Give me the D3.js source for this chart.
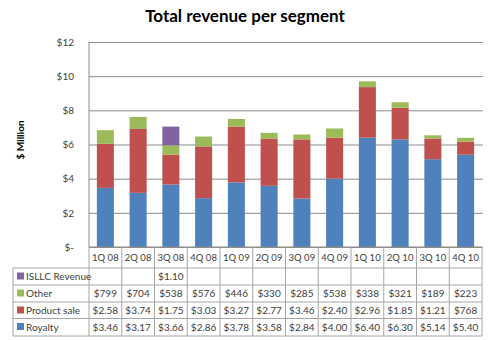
<!DOCTYPE html>
<html><head><meta charset="utf-8">
<script src="https://cdn.jsdelivr.net/npm/d3@7"></script>
<style>body{margin:0;background:#fff;} svg{display:block;font-family:Lato,"Open Sans",sans-serif;}</style>
</head><body><svg id="c" width="490" height="340"></svg>
<script>
const categories = ["1Q 08","2Q 08","3Q 08","4Q 08","1Q 09","2Q 09","3Q 09","4Q 09","1Q 10","2Q 10","3Q 10","4Q 10"];
const royalty = [3.46,3.17,3.66,2.86,3.78,3.58,2.84,4.00,6.40,6.30,5.14,5.40];
const productSale = [2.58,3.74,1.75,3.03,3.27,2.77,3.46,2.40,2.96,1.85,1.21,0.768];
const other = [0.799,0.704,0.538,0.576,0.446,0.330,0.285,0.538,0.338,0.321,0.189,0.223];
const isllc = [null,null,1.10,null,null,null,null,null,null,null,null,null];
const yTicks = [0,2,4,6,8,10,12];
const seriesNames = ["Royalty","Product sale","Other","ISLLC Revenue"];
const seriesColors = ["#4F81BD","#C0504D","#9BBB59","#8064A2"];
const title = "Total revenue per segment";
const yTitle = "$ Million";

const svg = d3.select("#c");
const L = 89, R = 482, T = 42, B = 247;
const x = d3.scaleBand().domain(categories).range([L, R]).paddingInner(0.48).paddingOuter(0.24);
const xCell = d3.scaleBand().domain(categories).range([L, R]);
const y = d3.scaleLinear().domain([0, 12]).range([B, T]);

const series = [royalty, productSale, other, isllc];
const rows = categories.map((c, i) => {
  const o = {cat: c};
  seriesNames.forEach((n, j) => o[n] = series[j][i] || 0);
  return o;
});
const stack = d3.stack().keys(seriesNames)(rows);

// title
svg.append("text").attr("x", 245).attr("y", 22).attr("text-anchor", "middle")
  .attr("font-size", 17).attr("font-weight", "bold").attr("fill", "#000").text(title);

// grid
const grid = svg.append("g").attr("transform", `translate(${L},0)`)
  .call(d3.axisLeft(y).tickValues(yTicks).tickSize(-(R - L + 1)).tickFormat(""));
grid.select(".domain").remove();
grid.selectAll("line").attr("stroke", "#8c8c8c").attr("stroke-width", 1);

// y labels
const ya = svg.append("g").attr("transform", `translate(${L - 12},0)`)
  .call(d3.axisLeft(y).tickValues(yTicks).tickSize(0).tickFormat(d => d === 0 ? "$-" : "$" + d));
ya.select(".domain").remove();
ya.selectAll("text").attr("font-size", 10).attr("fill", "#404040").attr("font-family", "Lato,sans-serif");

svg.append("text").attr("transform", `translate(24,140) rotate(-90)`).attr("text-anchor", "middle")
  .attr("font-size", 10).attr("font-weight", "bold").attr("fill", "#000").text(yTitle);

// bars
stack.forEach((s, j) => {
  svg.append("g").selectAll("rect").data(s.filter(d => d[1] > d[0])).join("rect")
    .attr("x", d => x(d.data.cat)).attr("width", x.bandwidth())
    .attr("y", d => y(d[1])).attr("height", d => y(d[0]) - y(d[1]))
    .attr("fill", seriesColors[j]);
});

// axis line left and bottom
svg.append("line").attr("x1", L).attr("x2", L).attr("y1", y(12)).attr("y2", B).attr("stroke", "#8c8c8c");
svg.append("line").attr("x1", L).attr("x2", R).attr("y1", B).attr("y2", B).attr("stroke", "#8c8c8c");

// table
const rowTops = [268, 285, 302, 318.5];
const rowH = 17;
const tableBottom = 336;
const legendLeft = 13;
const tbl = svg.append("g");
const bc = "#a6a6a6";
// category header cells
categories.forEach(c => {
  tbl.append("text").attr("x", xCell(c) + xCell.bandwidth() / 2).attr("y", 261)
    .attr("text-anchor", "middle").attr("font-size", 9.5).attr("fill", "#404040").text(c);
});
// vertical lines in header
xCell.domain().concat([null]).forEach((c, i) => {
  const xx = c === null ? R : xCell(c);
  tbl.append("line").attr("x1", xx).attr("x2", xx).attr("y1", B).attr("y2", tableBottom).attr("stroke", bc);
});
tbl.append("line").attr("x1", legendLeft).attr("x2", legendLeft).attr("y1", rowTops[0]).attr("y2", tableBottom).attr("stroke", bc);
rowTops.concat([tableBottom]).forEach(t => {
  tbl.append("line").attr("x1", legendLeft).attr("x2", R).attr("y1", t).attr("y2", t).attr("stroke", bc);
});
const fmt = v => v == null ? "" : (v < 1 ? "$" + Math.round(v * 1000) : "$" + v.toFixed(2));
const tableOrder = [3, 2, 1, 0];
tableOrder.forEach((j, r) => {
  const t = rowTops[r];
  tbl.append("rect").attr("x", 17).attr("y", t + rowH / 2 - 4).attr("width", 7).attr("height", 7).attr("fill", seriesColors[j]);
  tbl.append("text").attr("x", 26).attr("y", t + rowH / 2 + 3.5).attr("font-size", 10).attr("fill", "#404040").text(seriesNames[j]);
  categories.forEach((c, i) => {
    tbl.append("text").attr("x", xCell(c) + xCell.bandwidth() / 2).attr("y", t + rowH / 2 + 3.5)
      .attr("text-anchor", "middle").attr("font-size", 10).attr("fill", "#404040").text(fmt(series[j][i]));
  });
});
</script></body></html>
